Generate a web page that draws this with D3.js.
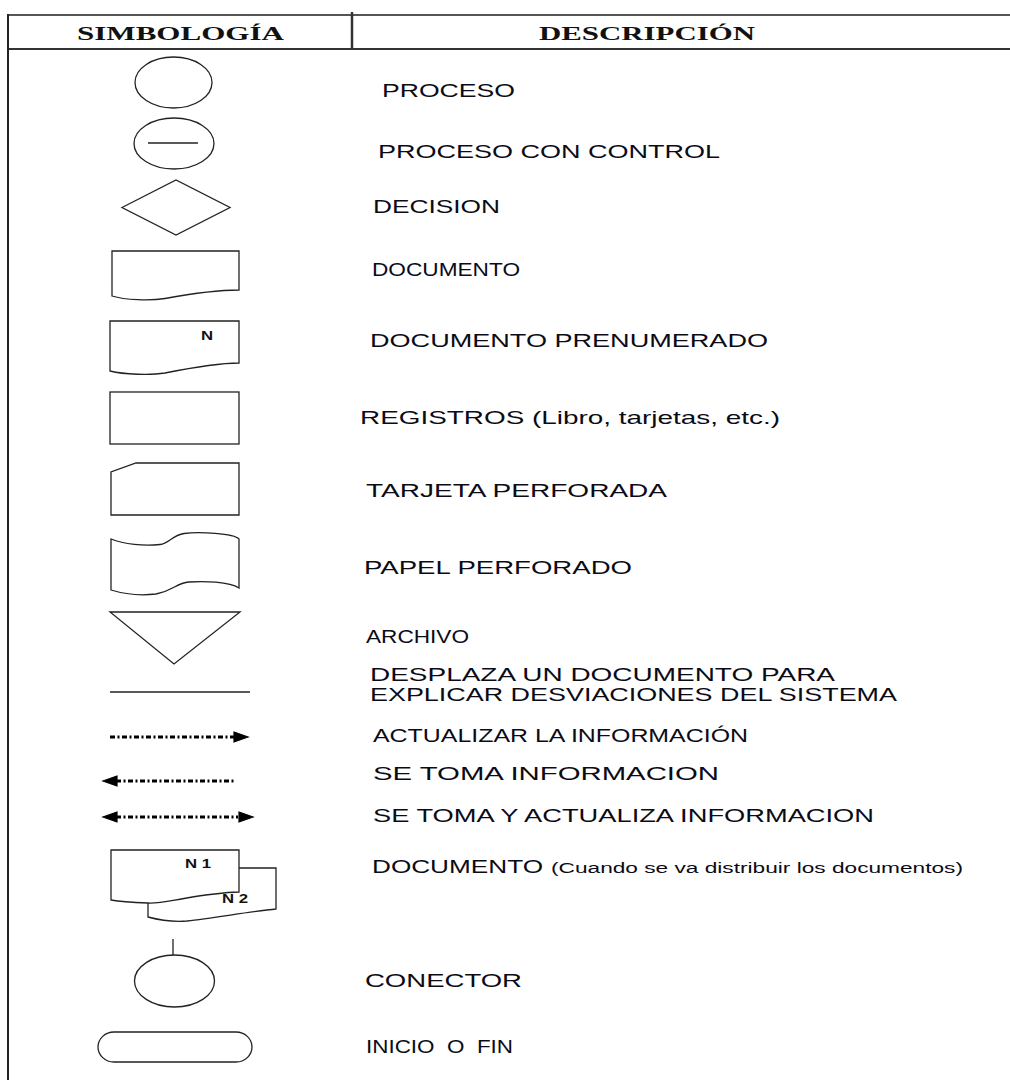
<!DOCTYPE html>
<html><head><meta charset="utf-8">
<script src="https://cdn.jsdelivr.net/npm/d3@7"></script>
<style>html,body{margin:0;padding:0;background:#fff;} svg{display:block}</style>
</head><body>
<script>
// ---------- data ----------
const headers = ["SIMBOLOGÍA", "DESCRIPCIÓN"];
const symbols = ["proceso","procesoControl","decision","documento","documentoN","registro","tarjeta","papel","archivo","linea","flechaDer","flechaIzq","flechaDoble","documentos","conector","terminal"];
const descriptions = [
  ["PROCESO"],["PROCESO CON CONTROL"],["DECISION"],["DOCUMENTO"],["DOCUMENTO PRENUMERADO"],
  ["REGISTROS (Libro, tarjetas, etc.)"],["TARJETA PERFORADA"],["PAPEL PERFORADO"],["ARCHIVO"],
  ["DESPLAZA UN DOCUMENTO PARA","EXPLICAR DESVIACIONES DEL SISTEMA"],
  ["ACTUALIZAR LA INFORMACIÓN"],["SE TOMA INFORMACION"],["SE TOMA Y ACTUALIZA INFORMACION"],
  ["DOCUMENTO"],["CONECTOR"],["INICIO  O  FIN"]
];
const notes = ["","","","","","","","","","","","","","(Cuando se va distribuir los documentos)","",""];
const symbolLabels = [[],[],[],[],["N"],[],[],[],[],[],[],[],[],["N 1","N 2"],[],[]];

// ---------- layout ----------
const W = 1010, H = 1080;
const symbolCx = 174;
const rowY  = [82.5,143.5,207.5,273.5,346,418,489,564.5,638,692,737,781,817,885,981,1047];
const textY = [97,158,213,276,347,424,497,574,643,681,742,780,822,873,987,1053];
const textX = [382,378,373,372,370,360,366,364,366,370,373,373,373,372,365,366];
const textW = [[133],[342],[127],[148],[398],[420],[301],[268],[103],[465,527],[375],[346],[501],[171],[157],[147]];
const noteX = 551, noteW = 412;
const labelPos = {documentoN:[[27,-6]], documentos:[[11,-17],[48,18]]};
const ink = "#222", txt = "#0b0b16";

const svg = d3.select("body").append("svg").attr("width", W).attr("height", H);

// table frame
const frame = svg.append("g").attr("fill","none");
frame.append("line").attr("x1",7).attr("x2",W).attr("y1",15).attr("y2",15).attr("stroke","#555").attr("stroke-width",2);
frame.append("line").attr("x1",7).attr("x2",W).attr("y1",49).attr("y2",49).attr("stroke","#333").attr("stroke-width",2);
frame.append("line").attr("x1",8).attr("x2",8).attr("y1",14).attr("y2",H).attr("stroke","#222").attr("stroke-width",2);
frame.append("line").attr("x1",352).attr("x2",352).attr("y1",12).attr("y2",49).attr("stroke","#333").attr("stroke-width",2.5);

// headers
const headerX = [77, 539], headerW = [207, 216];
svg.selectAll("text.hdr").data(headers).join("text").attr("class","hdr")
  .attr("x",(d,i)=>headerX[i]).attr("y",40)
  .attr("textLength",(d,i)=>headerW[i]).attr("lengthAdjust","spacingAndGlyphs")
  .style("font-family","'Liberation Serif','Times New Roman',serif").style("font-weight","bold")
  .style("font-size","19px").attr("fill","#111").text(d=>d);

// symbol generators (local coords around row centre)
function arrowHead(p, tip, dir){ p.moveTo(tip - dir*14, -5); p.lineTo(tip, 0); p.lineTo(tip - dir*14, 5); p.closePath(); }
const gen = {
  proceso: g => g.append("ellipse").attr("cx",-0.5).attr("rx",38.5).attr("ry",25.5),
  procesoControl: g => { g.append("ellipse").attr("rx",40).attr("ry",25.5);
     g.append("line").attr("x1",-26).attr("x2",24).attr("y1",-0.5).attr("y2",-0.5); },
  decision: g => g.append("path").attr("d","M-52,0L2,-27.5L56,0L2,27.5Z"),
  documento: g => g.append("path").attr("d","M-62,-22.5H65V16.5C51,16.5 21,19.5 -9,25C-24,27.5 -49,26.5 -62,22.5Z"),
  documentoN: g => g.append("path").attr("d","M-64,-25H65V17C51,17 21,21 -9,27C-24,29.5 -50,28.5 -64,25Z"),
  registro: g => g.append("rect").attr("x",-64).attr("y",-26).attr("width",129).attr("height",52),
  tarjeta: g => g.append("path").attr("d","M-38,-26H65V26H-63V-17Z"),
  papel: g => g.append("path").attr("d","M-63,-25.5C-50,-20 -30,-18.5 -14,-20C-5,-21 -2,-29 10,-31C25,-33 60,-31 65,-25.5V23.5C55,17 30,16.5 15,17.5C2,18.5 0,26 -18,29.5C-35,31.5 -50,29.5 -63,25.5Z"),
  archivo: g => g.append("path").attr("d","M-64,-26H66L0,26Z"),
  linea: g => g.append("line").attr("x1",-64).attr("x2",76),
  flechaDer: g => { g.append("line").attr("class","dd").attr("x1",-64).attr("x2",61);
     const p=d3.path(); arrowHead(p,74,1); g.append("path").attr("class","head").attr("d",p.toString()); },
  flechaIzq: g => { g.append("line").attr("class","dd").attr("x1",-58).attr("x2",60);
     const p=d3.path(); arrowHead(p,-71,-1); g.append("path").attr("class","head").attr("d",p.toString()); },
  flechaDoble: g => { g.append("line").attr("class","dd").attr("x1",-58).attr("x2",64);
     const p=d3.path(); arrowHead(p,-71,-1); arrowHead(p,79,1); g.append("path").attr("class","head").attr("d",p.toString()); },
  documentos: g => {
     g.append("path").attr("d","M65,-17H102V24C80,26 40,33 13,36C0,37 -15,35 -26,32V17Z");
     g.append("path").attr("d","M-63,-35H65V7C45,7.5 30,10 10,13.5C-5,16 -15,18.5 -26,18C-40,17.5 -55,16.5 -63,15Z"); },
  conector: g => { g.append("line").attr("x1",-1).attr("x2",-1).attr("y1",-42).attr("y2",-26);
     g.append("ellipse").attr("cx",0.5).attr("rx",40).attr("ry",26); },
  terminal: g => g.append("rect").attr("x",-76).attr("y",-15).attr("width",154).attr("height",30).attr("rx",16).attr("ry",15)
};

const rows = svg.selectAll("g.row").data(symbols).join("g").attr("class","row")
  .attr("transform",(d,i)=>`translate(${symbolCx},${rowY[i]})`)
  .attr("fill","#fff").attr("stroke",ink).attr("stroke-width",1.3);
rows.each(function(d){ gen[d](d3.select(this)); });
rows.selectAll(".dd").attr("stroke","#000").attr("stroke-width",3).attr("stroke-dasharray","5,2.5,2,2.5");
rows.selectAll(".head").attr("fill","#000").attr("stroke","#000").attr("stroke-width",1.2);

// labels inside symbols
rows.each(function(d,i){
  const pos = labelPos[d] || [];
  d3.select(this).selectAll("text.lbl").data(symbolLabels[i]).join("text").attr("class","lbl")
    .attr("transform",(t,j)=>`translate(${pos[j][0]},${pos[j][1]}) scale(1.4,1)`)
    .attr("stroke","none").attr("fill","#111")
    .style("font-family","'Liberation Sans',Arial,sans-serif").style("font-weight","bold").style("font-size","12px")
    .style("white-space","pre").text(t=>t);
});

// descriptions
const desc = svg.selectAll("g.desc").data(descriptions).join("g").attr("class","desc")
  .attr("transform",(d,i)=>`translate(${textX[i]},${textY[i]})`);
desc.each(function(lines,i){
  const g = d3.select(this);
  g.selectAll("text.main").data(lines).join("text").attr("class","main")
    .attr("x",0).attr("y",(l,j)=>j*20)
    .attr("textLength",(l,j)=>textW[i][j]).attr("lengthAdjust","spacingAndGlyphs")
    .attr("fill",txt).style("font-family","'Liberation Sans',Arial,sans-serif").style("font-size","19px")
    .style("white-space","pre").text(l=>l);
  if (notes[i]) {
    g.append("text").attr("x",noteX - textX[i]).attr("y",0)
      .attr("textLength",noteW).attr("lengthAdjust","spacingAndGlyphs")
      .attr("fill",txt).style("font-family","'Liberation Sans',Arial,sans-serif").style("font-size","15.5px")
      .text(notes[i]);
  }
});
</script>
</body></html>
